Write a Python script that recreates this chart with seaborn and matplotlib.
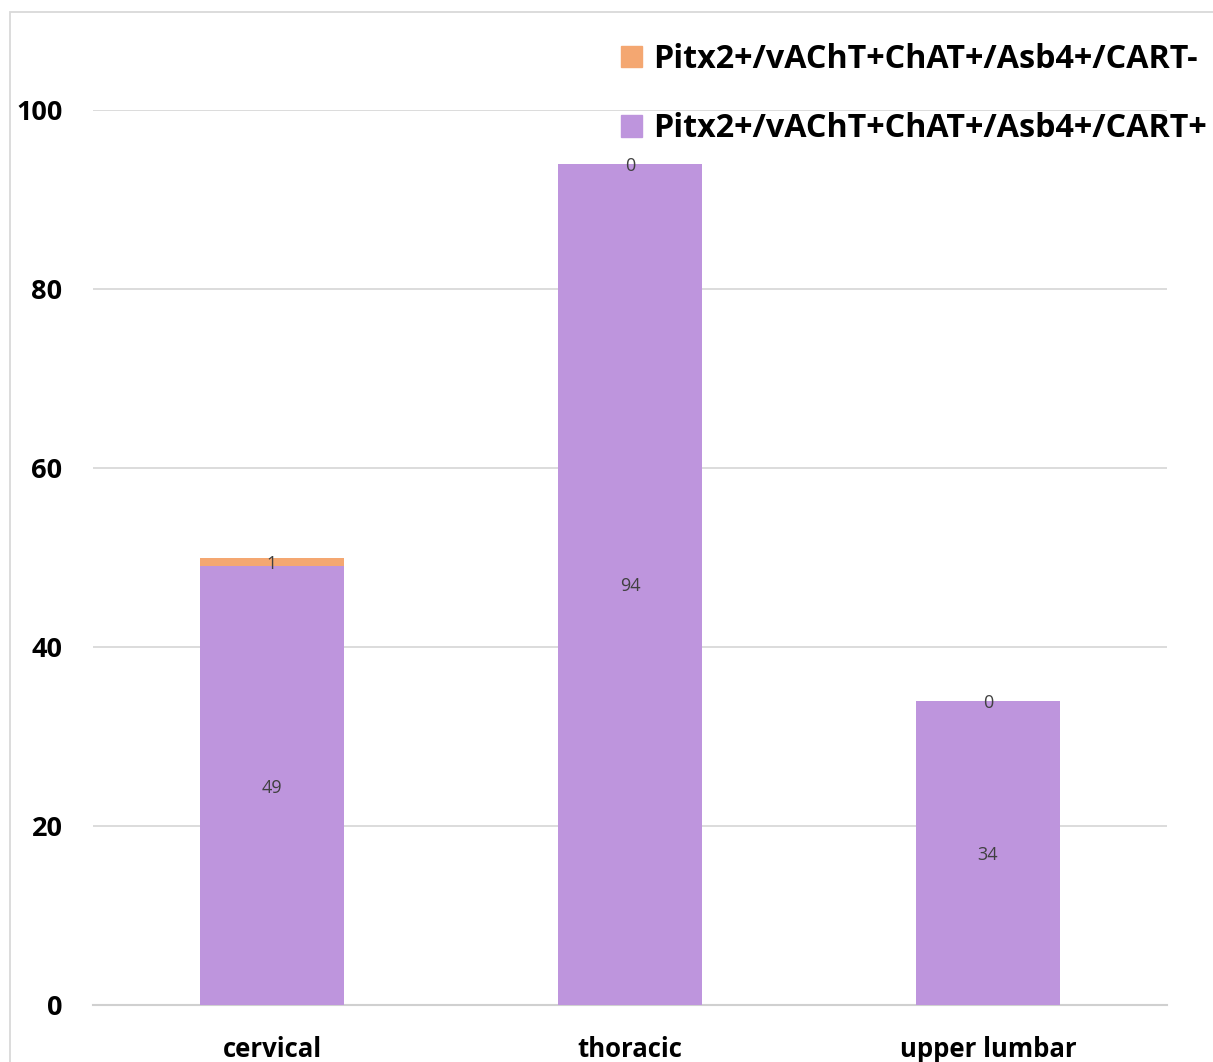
import matplotlib
matplotlib.use("Agg")
import matplotlib.pyplot as plt
import matplotlib.patches as mpatches
import seaborn as sns
import pandas as pd

regions = ["cervical", "thoracic", "upper lumbar"]
cart_pos = [49, 94, 34]
cart_neg = [1, 0, 0]
series_names = ["Pitx2+/vAChT+ChAT+/Asb4+/CART-", "Pitx2+/vAChT+ChAT+/Asb4+/CART+"]
y_ticks = [0, 20, 40, 60, 80, 100]

purple = "#BE95DD"
orange = "#F4A771"

sns.set_theme(style="white")
plt.rcParams["font.family"] = ["Open Sans", "DejaVu Sans"]

df = pd.DataFrame({
    "region": regions,
    "pos": cart_pos,
    "total": [p + n for p, n in zip(cart_pos, cart_neg)],
})

fig = plt.figure(figsize=(12.13, 10.62), dpi=100)
ax = fig.add_axes([93 / 1213, 1 - 1005 / 1062, (1167 - 93) / 1213, (1005 - 110) / 1062])

# stacked bars: totals underneath, CART+ drawn over them
sns.barplot(data=df, x="region", y="total", color=orange, width=0.4,
            saturation=1, linewidth=0, ax=ax, zorder=2)
sns.barplot(data=df, x="region", y="pos", color=purple, width=0.4,
            saturation=1, linewidth=0, ax=ax, zorder=3)

ax.set_ylim(0, 100)
ax.set_xlim(-0.5, 2.5)
ax.set_yticks(y_ticks)
ax.set_xlabel("")
ax.set_ylabel("")
ax.yaxis.grid(True, color="#d9d9d9", linewidth=1.3, zorder=0)
ax.set_axisbelow(True)
for side in ["top", "right", "left"]:
    ax.spines[side].set_visible(False)
ax.spines["bottom"].set_color("#d0d0d0")
ax.spines["bottom"].set_linewidth(1.5)
ax.tick_params(axis="both", length=0)
ax.tick_params(axis="y", pad=22, labelsize=19.5)
ax.tick_params(axis="x", pad=22, labelsize=18.5)
for lab in ax.get_xticklabels() + ax.get_yticklabels():
    lab.set_fontweight("bold")
    lab.set_color("black")

# value labels in the middle of each segment
for i, (p, n) in enumerate(zip(cart_pos, cart_neg)):
    ax.text(i, p / 2, f"{p}", ha="center", va="center_baseline", fontsize=13,
            color="#404040", zorder=5)
    ax.text(i, p + n / 2, f"{n}", ha="center", va="center_baseline", fontsize=13,
            color="#404040", zorder=5)

handles = [mpatches.Patch(color=orange), mpatches.Patch(color=purple)]
leg = fig.legend(handles, series_names, loc="upper left",
                 bbox_to_anchor=(621 / 1213, 1 - 43 / 1062), frameon=False,
                 prop={"weight": "bold", "size": 23.2}, handlelength=0.65,
                 handleheight=0.65, handletextpad=0.34, labelspacing=1.12,
                 borderaxespad=0, borderpad=0)
for t in leg.get_texts():
    t.set_color("black")

# outer chart frame
fig.patches.append(mpatches.Rectangle((10 / 1213, -0.05), 1.2, 1 - 12 / 1062 + 0.05,
                                      transform=fig.transFigure, fill=False,
                                      edgecolor="#d9d9d9", linewidth=1.3))

fig.savefig("out.png", dpi=100)
